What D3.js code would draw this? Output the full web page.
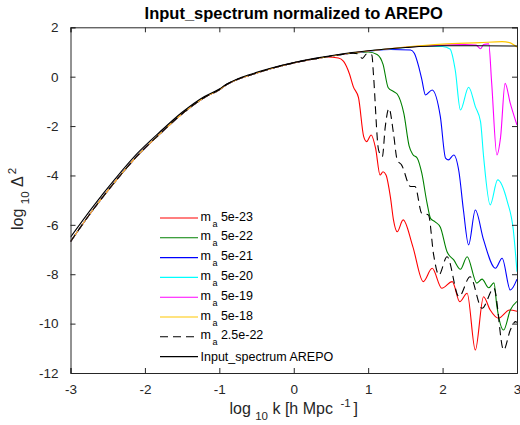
<!DOCTYPE html>
<html lang="en">
  <head>
    <meta charset="UTF-8" />
    <title>Input_spectrum normalized to AREPO</title>
    <script src="https://d3js.org/d3.v7.min.js"></script>
    <style>
      body {
        margin: 0;
        background: #fff;
        font-family: 'Liberation Sans', Arial, Helvetica, sans-serif;
      }
      .axis text {
        fill: #262626;
        font-size: 13.5px;
      }
      .axis line,
      .axis path {
        stroke: #262626;
      }
      .legend text {
        fill: #000;
        font-size: 12.5px;
      }
    </style>
  </head>
  <body>
    <div id="chart"></div>
    <script>
      // ticks
      const xTicks = [-3, -2, -1, 0, 1, 2, 3];
      const yTicks = [2, 0, -2, -4, -6, -8, -10, -12];

      // low-k part shared by all axion curves (log10 k, log10 Delta^2)
      const sharedK = [-3, -2.7, -2.4, -2.1, -1.8, -1.5, -1.2, -1.0, -0.9, -0.75, -0.6, -0.3, 0, 0.3];
      const sharedLog = [-6.68, -5.4, -4.25, -3.2, -2.32, -1.5, -0.84, -0.53, -0.32, -0.1, 0.05, 0.33, 0.56, 0.73];

      // m_a 5e-23
      const redK = [0.45, 0.6, 0.67, 0.75, 0.8, 0.87, 0.94, 0.98, 1.04, 1.1, 1.16, 1.2, 1.24, 1.3, 1.34, 1.39, 1.47, 1.6, 1.74, 1.86, 1.99, 2.13, 2.23, 2.33, 2.44, 2.55, 2.64, 2.75, 2.9, 3.0];
      const redLog = [0.8, 0.76, 0.62, 0.1, -0.4, -0.85, -2.43, -2.63, -2.36, -2.9, -3.98, -3.85, -3.98, -4.9, -5.8, -6.28, -5.8, -6.88, -8.3, -7.76, -8.57, -8.3, -9.11, -8.77, -11.07, -8.91, -9.45, -9.78, -9.45, -9.5];

      // m_a 5e-22
      const greenK = [0.6, 0.9, 1.0, 1.12, 1.2, 1.27, 1.34, 1.39, 1.48, 1.55, 1.6, 1.66, 1.72, 1.79, 1.84, 1.9, 1.97, 2.06, 2.15, 2.24, 2.33, 2.46, 2.53, 2.62, 2.69, 2.73, 2.82, 2.91, 3.0];
      const greenLog = [0.88, 0.98, 1.0, 0.9, 0.5, -0.45, -0.6, -0.7, -1.5, -2.8, -3.15, -3.3, -3.9, -5.1, -5.75, -5.88, -6.1, -7.09, -7.42, -7.8, -7.29, -8.36, -8.2, -8.55, -8.35, -9.3, -10.26, -9.45, -9.1];

      // m_a 5e-21
      const blueK = [0.6, 1.0, 1.3, 1.57, 1.62, 1.68, 1.72, 1.77, 1.86, 1.97, 2.04, 2.08, 2.15, 2.22, 2.28, 2.35, 2.44, 2.55, 2.71, 2.8, 2.91, 3.0];
      const blueLog = [0.88, 1.03, 1.1, 1.08, 0.95, 0.4, -0.1, -0.74, -0.54, -1.62, -3.3, -3.37, -3.17, -3.85, -5.4, -6.81, -5.4, -6.6, -7.76, -7.35, -8.64, -8.2];

      // m_a 5e-20
      const cyanK = [0.6, 1.0, 1.5, 1.7, 2.0, 2.1, 2.17, 2.24, 2.35, 2.44, 2.51, 2.55, 2.64, 2.74, 2.87, 2.95, 3.0];
      const cyanLog = [0.88, 1.04, 1.18, 1.23, 1.22, 1.12, 0.27, -1.35, -0.43, -1.21, -1.82, -3.2, -5.19, -4.18, -5.06, -6.2, -7.9];

      // m_a 5e-19
      const magentaK = [0.6, 1.0, 1.5, 2.0, 2.3, 2.45, 2.51, 2.55, 2.62, 2.66, 2.73, 2.78, 2.84, 2.91, 3.0];
      const magentaLog = [0.88, 1.04, 1.19, 1.28, 1.3, 1.28, 1.13, 1.3, 1.33, -0.27, -3.17, -2.43, -0.27, -1.08, -1.96];

      // m_a 5e-18
      const yellowK = [0.6, 1.0, 1.5, 2.0, 2.5, 2.8, 2.9, 3.0];
      const yellowLog = [0.88, 1.04, 1.2, 1.32, 1.38, 1.42, 1.38, 1.2];

      // m_a 2.5e-22 (dashed)
      const dashK = [0.6, 0.8, 0.87, 0.92, 0.98, 1.05, 1.07, 1.14, 1.19, 1.23, 1.28, 1.34, 1.39, 1.45, 1.57, 1.63, 1.72, 1.81, 1.88, 1.95, 2.06, 2.22, 2.37, 2.53, 2.69, 2.82, 2.91, 2.98, 3.0];
      const dashLog = [0.88, 0.95, 0.92, 0.74, 0.92, 0.88, 0.14, -2.97, -3.24, -2.02, -1.28, -2.29, -3.37, -3.58, -4.45, -4.45, -5.53, -5.6, -7.22, -8.03, -7.29, -8.91, -8.1, -9.38, -8.57, -11.07, -10.26, -9.92, -9.95];

      // Input_spectrum AREPO
      const arepoK = [-3, -2.7, -2.4, -2.1, -1.8, -1.5, -1.2, -1.0, -0.9, -0.75, -0.6, -0.3, 0, 0.3, 0.6, 1.0, 1.5, 2.0, 2.5, 3.0];
      const arepoLog = [-6.5, -5.27, -4.14, -3.1, -2.24, -1.44, -0.8, -0.5, -0.3, -0.08, 0.08, 0.35, 0.57, 0.75, 0.9, 1.05, 1.18, 1.25, 1.25, 1.24];

      const series = [
        { label: '5e-23', color: '#ff0000', k: redK, v: redLog },
        { label: '5e-22', color: '#008000', k: greenK, v: greenLog },
        { label: '5e-21', color: '#0000ff', k: blueK, v: blueLog },
        { label: '5e-20', color: '#00ffff', k: cyanK, v: cyanLog },
        { label: '5e-19', color: '#ff00ff', k: magentaK, v: magentaLog },
        { label: '5e-18', color: '#ffc800', k: yellowK, v: yellowLog },
        { label: '2.5e-22', color: '#000000', k: dashK, v: dashLog, dash: '8,5' },
      ].map((s) => ({
        ...s,
        pts: sharedK
          .concat(s.k)
          .map((k, i) => [k, sharedLog.concat(s.v)[i]]),
      }));

      const width = 520,
        height = 425;
      const margin = { top: 27.3, right: 3, bottom: 52, left: 70.5 };

      const x = d3
        .scaleLinear()
        .domain([-3, 3])
        .range([margin.left, width - margin.right]);
      const y = d3
        .scaleLinear()
        .domain([-12, 2])
        .range([height - margin.bottom, margin.top]);

      const svg = d3
        .select('#chart')
        .append('svg')
        .attr('width', width)
        .attr('height', height);

      svg
        .append('clipPath')
        .attr('id', 'clip')
        .append('rect')
        .attr('x', x(-3))
        .attr('y', y(2))
        .attr('width', x(3) - x(-3))
        .attr('height', y(-12) - y(2));

      const line = d3
        .line()
        .x((d) => x(d[0]))
        .y((d) => y(d[1]))
        .curve(d3.curveMonotoneX);

      const plot = svg.append('g').attr('clip-path', 'url(#clip)');

      series.forEach((s) => {
        plot
          .append('path')
          .attr('d', line(s.pts))
          .attr('fill', 'none')
          .attr('stroke', s.color)
          .attr('stroke-width', 1.1)
          .attr('stroke-dasharray', s.dash || null);
      });

      plot
        .append('path')
        .attr('d', line(arepoK.map((k, i) => [k, arepoLog[i]])))
        .attr('fill', 'none')
        .attr('stroke', '#000')
        .attr('stroke-width', 1.1);

      // axes with inward ticks on all four sides
      const tick = -5;
      svg
        .append('g')
        .attr('class', 'axis')
        .attr('transform', `translate(0,${y(-12)})`)
        .call(d3.axisBottom(x).tickValues(xTicks).tickSize(tick).tickPadding(11).tickFormat(d3.format('d')))
        .call((g) => g.selectAll('text').attr('dy', '0.71em'));
      svg
        .append('g')
        .attr('class', 'axis')
        .attr('transform', `translate(0,${y(2)})`)
        .call(d3.axisTop(x).tickValues(xTicks).tickSize(tick).tickFormat(''));
      svg
        .append('g')
        .attr('class', 'axis')
        .attr('transform', `translate(${x(-3)},0)`)
        .call(d3.axisLeft(y).tickValues(yTicks).tickSize(tick).tickPadding(12).tickFormat(d3.format('d')));
      svg
        .append('g')
        .attr('class', 'axis')
        .attr('transform', `translate(${x(3)},0)`)
        .call(d3.axisRight(y).tickValues(yTicks).tickSize(tick).tickFormat(''));
      svg.selectAll('.axis path').attr('stroke-width', 1);
      svg.selectAll('.axis text').text(function () {
        return this.textContent.replace('\u2212', '-');
      });

      // title
      svg
        .append('text')
        .attr('x', (x(-3) + x(3)) / 2)
        .attr('y', 19)
        .attr('text-anchor', 'middle')
        .style('font-weight', 'bold')
        .style('font-size', '16.5px')
        .text('Input_spectrum normalized to AREPO');

      // x label
      const xl = svg
        .append('text')
        .attr('x', (x(-3) + x(3)) / 2)
        .attr('y', 414)
        .attr('text-anchor', 'middle')
        .style('font-size', '16px')
        .attr('fill', '#262626')
        .attr('xml:space', 'preserve');
      xl.append('tspan').text('log ');
      xl.append('tspan').attr('dy', 6).style('font-size', '11.5px').text('10');
      xl.append('tspan').attr('dy', -6).text(' k [h Mpc ');
      xl.append('tspan').attr('dy', -7).attr('dx', 3).style('font-size', '11.5px').text('-1');
      xl.append('tspan').attr('dy', 7).attr('dx', 3).text(']');

      // y label
      const yl = svg
        .append('text')
        .attr('transform', 'translate(23,199) rotate(-90)')
        .attr('text-anchor', 'middle')
        .style('font-size', '16px')
        .attr('fill', '#262626');
      yl.append('tspan').text('log ');
      yl.append('tspan').attr('dy', 6).style('font-size', '11.5px').text('10');
      yl.append('tspan').attr('dy', -6).text(' \u0394');
      yl.append('tspan').attr('dy', -7).attr('dx', 2).style('font-size', '11.5px').text('2');

      // legend
      const legend = svg.append('g').attr('class', 'legend');
      const rowY = (i) => 218 + i * 19.8;
      series.forEach((s, i) => {
        legend
          .append('line')
          .attr('x1', 160)
          .attr('x2', 198)
          .attr('y1', rowY(i))
          .attr('y2', rowY(i))
          .attr('stroke', s.color)
          .attr('stroke-width', 1.1)
          .attr('stroke-dasharray', s.dash || null);
        const t = legend.append('text').attr('x', 200.5).attr('y', rowY(i) + 2.5);
        t.append('tspan').text('m');
        t.append('tspan').attr('dx', 1.5).attr('dy', 6).style('font-size', '9px').text('a');
        t.append('tspan').attr('dy', -6).text(' ' + s.label);
      });
      legend
        .append('line')
        .attr('x1', 160)
        .attr('x2', 198)
        .attr('y1', rowY(7))
        .attr('y2', rowY(7))
        .attr('stroke', '#000')
        .attr('stroke-width', 1.1);
      legend
        .append('text')
        .attr('x', 200.5)
        .attr('y', rowY(7) + 4)
        .text('Input_spectrum AREPO');
    </script>
  </body>
</html>
